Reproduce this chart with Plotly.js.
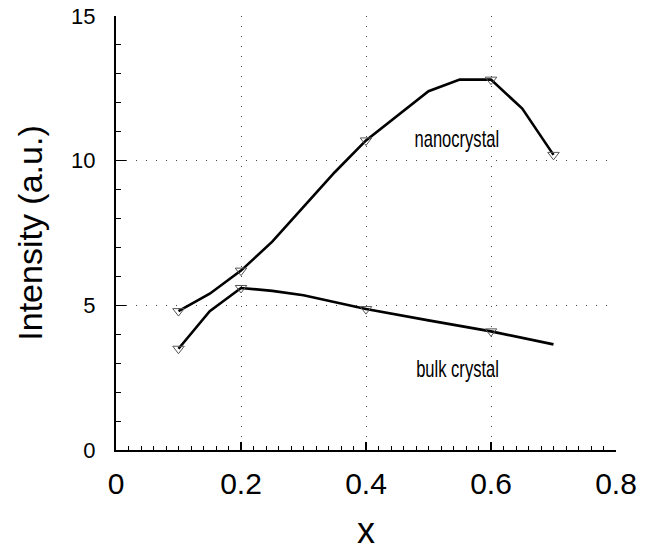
<!DOCTYPE html>
<html>
<head>
<meta charset="utf-8">
<script src="https://cdn.plot.ly/plotly-3.0.1.min.js"></script>
<style>
body{margin:0;background:#fff;}
#chart{width:650px;height:551px;}
#chart .annotation-text{transform-box:fill-box;transform-origin:center;transform:scaleX(0.72);}
</style>
</head>
<body>
<div id="chart"></div>
<script>
// Measured points (markers)
const xMeasNano = [0.1, 0.2, 0.4, 0.6, 0.7];
const yMeasNano = [4.8, 6.2, 10.7, 12.8, 10.2];
const xMeasBulk = [0.1, 0.2, 0.4, 0.6];
const yMeasBulk = [3.5, 5.6, 4.87, 4.1];
// Drawn curves (line vertices)
const xLineNano = [0.1, 0.15, 0.2, 0.25, 0.3, 0.35, 0.4, 0.45, 0.5, 0.55, 0.6, 0.65, 0.7];
const yLineNano = [4.8, 5.4, 6.2, 7.2, 8.4, 9.6, 10.7, 11.55, 12.4, 12.8, 12.8, 11.8, 10.2];
const xLineBulk = [0.1, 0.15, 0.2, 0.25, 0.3, 0.35, 0.4, 0.5, 0.6, 0.7];
const yLineBulk = [3.5, 4.8, 5.6, 5.5, 5.35, 5.12, 4.87, 4.48, 4.1, 3.65];
// Labels
const seriesLabels = ["nanocrystal", "bulk crystal"];
const labelX = [0.546, 0.546];
const labelY = [10.75, 2.8];
const xTitle = "x";
const yTitle = "Intensity (a.u.)";

const sans = "'Liberation Sans', Arial, Helvetica, sans-serif";

const lineStyle = {color: "#000", width: 2.6};
const markerStyle = {symbol: "triangle-down-open", size: 10, color: "#555", line: {width: 1, color: "#555"}};

const traces = [
  {x: xLineNano, y: yLineNano, mode: "lines", line: lineStyle, hoverinfo: "skip"},
  {x: xLineBulk, y: yLineBulk, mode: "lines", line: lineStyle, hoverinfo: "skip"},
  {x: xMeasNano, y: yMeasNano, mode: "markers", marker: markerStyle},
  {x: xMeasBulk, y: yMeasBulk, mode: "markers", marker: markerStyle}
];

const layout = {
  width: 650, height: 551,
  margin: {l: 116, r: 34, t: 16, b: 101},
  paper_bgcolor: "#fff", plot_bgcolor: "#fff",
  showlegend: false,
  xaxis: {
    range: [0, 0.8], tick0: 0, dtick: 0.2,
    ticks: "inside", ticklen: 8, tickwidth: 1.5, tickcolor: "#000",
    showline: true, linewidth: 2, linecolor: "#000",
    showgrid: true, gridcolor: "#444", gridwidth: 1, griddash: "1px,9px",
    zeroline: false,
    tickfont: {family: sans, size: 30, color: "#000"},
    ticklabelstandoff: 6,
    minor: {dtick: 0.02, tick0: 0, ticks: "inside", ticklen: 4, tickwidth: 1, tickcolor: "#000", showgrid: false},
    title: {text: xTitle, font: {family: sans, size: 36, color: "#000"}, standoff: 25},
    fixedrange: true
  },
  yaxis: {
    range: [0, 15], tick0: 0, dtick: 5,
    ticks: "inside", ticklen: 10, tickwidth: 1.5, tickcolor: "#000",
    showline: true, linewidth: 2, linecolor: "#000",
    showgrid: true, gridcolor: "#444", gridwidth: 1, griddash: "1px,9px",
    zeroline: false,
    tickfont: {family: sans, size: 22, color: "#000"},
    ticklabelstandoff: 14,
    minor: {dtick: 1, tick0: 0, ticks: "inside", ticklen: 5, tickwidth: 1, tickcolor: "#000", showgrid: false},
    title: {text: yTitle, font: {family: sans, size: 34, color: "#000"}, standoff: 18},
    fixedrange: true
  },
  annotations: seriesLabels.map((t, i) => ({
    x: labelX[i], y: labelY[i], xref: "x", yref: "y", text: t, showarrow: false,
    font: {family: sans, size: 23, color: "#000"}, xanchor: "center", yanchor: "middle"
  }))
};

Plotly.newPlot("chart", traces, layout, {staticPlot: true, displayModeBar: false});
</script>
</body>
</html>
